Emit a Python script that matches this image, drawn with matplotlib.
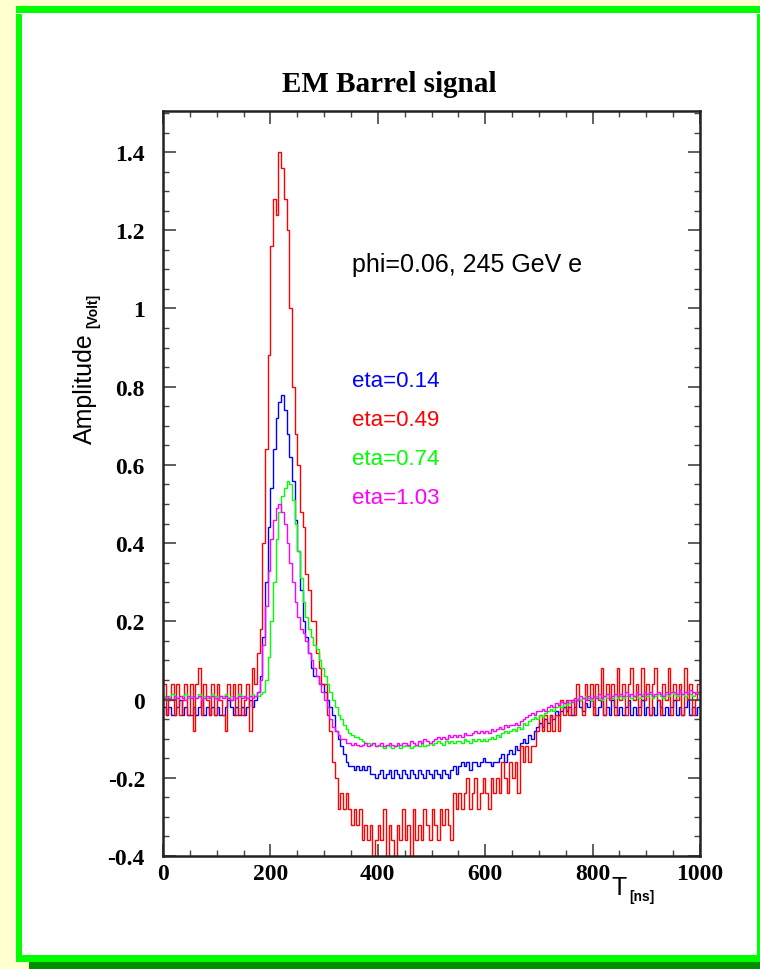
import numpy as np
import matplotlib
matplotlib.use('Agg')
import matplotlib.pyplot as plt
from matplotlib.patches import Rectangle
from matplotlib.ticker import MultipleLocator, FuncFormatter

plt.rcParams['axes.unicode_minus'] = False

# Signal amplitudes in units of 0.01 V, one value per 5 ns bin (0 .. 1000 ns)
bin_width = 5
eta_labels = ['eta=0.14', 'eta=0.49', 'eta=0.74', 'eta=1.03']

amp_eta014 = [
    -2, -4, -2, -4, -4, -2, 0, -4, -2, -4,
    -4, -2, -4, -2, 0, -4, -2, -4, -2, -4,
    -2, -4, -4, -2, 0, -2, -4, -2, -4, -2,
    -4, -2, 0, -2, 0, 2, 6, 16, 30, 44,
    54, 64, 72, 76, 78, 74, 68, 62, 56, 46,
    38, 28, 20, 16, 12, 8, 6, 6, 4, 4,
    2, 0, -2, -4, -8, -10, -12, -14, -16, -17,
    -17, -18, -17, -18, -17, -18, -17, -19, -19, -20,
    -19, -18, -20, -19, -18, -20, -18, -19, -20, -18,
    -19, -20, -18, -19, -20, -18, -19, -20, -18, -19,
    -20, -18, -19, -20, -18, -19, -20, -18, -17, -19,
    -17, -16, -17, -16, -18, -16, -16, -17, -16, -15,
    -16, -16, -17, -16, -16, -15, -14, -16, -14, -13,
    -14, -12, -13, -11, -10, -11, -9, -10, -8, -7,
    -6, -7, -5, -6, -4, -5, -3, -4, -3, -2,
    -3, -2, -4, -2, 0, -2, -3, -1, -2, 0,
    -2, -4, -2, 0, -4, -2, -4, 0, -2, -4,
    -2, -4, -2, 0, -4, -2, -4, -2, 0, -4,
    -2, -4, -2, -4, 0, -2, -4, -2, -4, -2,
    0, -4, -2, -4, -2, 0, -4, -2, -4, -2,
]

amp_eta049 = [
    4, -4, 0, 4, -4, 4, -4, 0, 4, -4,
    4, -8, 4, 8, -4, 4, 0, -4, 4, -4,
    4, 0, -4, -8, 4, 0, 4, -4, 4, -4,
    0, 4, -8, 8, 4, 12, 18, 40, 64, 88,
    116, 128, 124, 140, 136, 128, 120, 100, 80, 68,
    60, 48, 44, 32, 28, 20, 20, 12, 8, 4,
    4, -4, -8, -16, -20, -28, -24, -28, -24, -28,
    -32, -28, -32, -28, -36, -32, -36, -32, -40, -36,
    -32, -36, -28, -40, -32, -36, -40, -32, -36, -28,
    -36, -32, -40, -28, -36, -32, -36, -28, -32, -36,
    -28, -32, -36, -28, -32, -28, -32, -36, -24, -28,
    -24, -28, -24, -20, -28, -24, -20, -28, -24, -20,
    -24, -28, -20, -24, -20, -24, -16, -20, -24, -16,
    -20, -16, -24, -12, -16, -12, -16, -12, -12, -8,
    -4, -8, -4, -8, -4, -8, -4, -8, 0, -4,
    0, -4, 0, -4, 4, 0, -4, 4, 0, 4,
    -4, 4, 0, 8, -4, 4, 0, 4, -4, 8,
    0, 4, -4, 4, 8, 0, 4, -4, 8, 0,
    4, -4, 4, 8, 0, -4, 4, 0, 8, -4,
    4, 0, 4, -4, 8, 0, 4, -4, 0, 4,
]

amp_eta074 = [
    1, 0.5, 1, 1.5, 1, 0.5, 1, 1, 1.5, 0.5,
    1, 1, 0.5, 1.5, 1, 1, 0.5, 1, 1.5, 1,
    0.5, 1, 1, 1.5, 0.5, 1, 1, 0.5, 1.5, 1,
    1, 0.5, 1, 1.5, 1, 1, 1.5, 2, 5, 11,
    20, 30, 41, 48, 52, 54, 56, 55, 51, 45,
    38, 31, 25, 21, 18, 16, 14, 13, 10, 8,
    6, 4, 2, 0, -2, -4, -5, -6.5, -7.5, -8.5,
    -9, -9.5, -9.5, -10, -10.5, -11, -11, -11.5, -11, -12,
    -11.5, -12, -12.5, -11.5, -12, -12.5, -12, -11.5, -12.5, -12,
    -11.5, -12, -12.5, -12, -11.5, -12, -11, -12, -11.5, -11,
    -11.5, -11, -10.5, -11, -11.5, -10.5, -11, -10.5, -11, -10.5,
    -10.5, -11, -10, -10.5, -11, -10, -10.5, -10, -10.5, -10,
    -10.5, -10, -9.5, -10, -9, -9.5, -8.5, -8, -8.5, -8,
    -7.5, -8, -7, -7.5, -6, -6.5, -5.5, -5, -4.5, -5,
    -4, -4.5, -3.5, -3, -2.5, -3, -2, -1.5, -2, -1,
    -1.5, -1, -0.5, 0, 0.5, 0, 0.5, 1, 0.5, 0,
    0.5, 1, 0.5, 0, 1, 0.5, 1, 0.5, 1.5, 0.5,
    1, 0.5, 1, 1.5, 0.5, 1, 1, 0.5, 1.5, 1,
    1, 1.5, 0.5, 1, 1.5, 1, 0.5, 1.5, 1, 2,
    1.5, 1, 2, 1.5, 1, 2, 1.5, 1, 2, 1.5,
]

amp_eta103 = [
    0.5, 1, 0.5, 0, 1, 0.5, 1, 0.5, 0, 1,
    0.5, 1, 0.5, 1, 0, 0.5, 1, 0.5, 1, 0.5,
    0, 1, 0.5, 1, 0.5, 0, 1, 0.5, 1, 0.5,
    1, 0.5, 1, 0.5, 1, 2, 5, 14, 24, 33,
    41, 46, 49, 50, 48, 45, 40, 35, 30, 25,
    21, 18, 17, 15, 12, 10, 8, 6, 4, 2,
    0, -2, -5, -7, -8, -9, -10, -10, -11, -11,
    -11.5, -11, -11.5, -12, -11.5, -11, -12, -11.5, -11, -12,
    -11.5, -11, -12, -11.5, -11, -11.5, -12, -11, -11.5, -11,
    -11, -11.5, -10.5, -11, -11.5, -10.5, -11, -10, -10.5, -11,
    -10.5, -10, -9.5, -10, -9.5, -10, -9, -9.5, -9, -9.5,
    -9, -9.5, -8.5, -9, -9, -8.5, -8, -8.5, -8, -8.5,
    -8, -8.5, -7.5, -8, -7.5, -7, -7.5, -6.5, -7, -6.5,
    -6.5, -6, -6.5, -5.5, -5, -4.5, -4, -3.5, -4, -3,
    -3, -2.5, -3, -2, -1.5, -2, -1, -1.5, -0.5, -1,
    -0.5, 0, -0.5, 0.5, 0, 1, 0.5, 0, 1, 0.5,
    1, 0.5, 1.5, 0.5, 1, 1.5, 0.5, 1, 1.5, 1,
    1.5, 1, 2, 1, 1.5, 1, 2, 1.5, 1, 2,
    1.5, 2, 1, 1.5, 2, 1.5, 1, 2, 1.5, 2,
    2, 1.5, 2.5, 1.5, 2, 1.5, 2.5, 2, 1.5, 2,
]

W, H = 760, 970
fig = plt.figure(figsize=(W / 100, H / 100), dpi=100, facecolor='#ffffd0')


def px_rect(x0, y0, x1, y1, color):
    # rectangle given in pixel coords measured from the top-left corner
    fig.patches.append(Rectangle((x0 / W, 1 - y1 / H), (x1 - x0) / W, (y1 - y0) / H,
                                 transform=fig.transFigure, facecolor=color,
                                 edgecolor='none', zorder=-5))


# panel with green frame and shadow
px_rect(29, 963, 760, 970, '#009000')
px_rect(16, 7, 760, 963, 'white')
px_rect(16, 7, 760, 14, '#00ff00')
px_rect(16, 15, 22, 963, '#00ff00')
px_rect(16, 956, 760, 963, '#00ff00')
px_rect(757, 15, 760, 963, '#00ff00')

ax = fig.add_axes([163 / W, 1 - 857 / H, 537 / W, 745 / H])
ax.set_facecolor('white')

edges = np.arange(0, 1000 + bin_width, bin_width)
series = [amp_eta014, amp_eta049, amp_eta074, amp_eta103]
colors = ['#0000ff', '#ff0000', '#00ff00', '#ff00ff']
for vals, c in zip(series, colors):
    ax.stairs(np.array(vals) / 100.0, edges, color=c, lw=1.0, baseline=None)

ax.set_xlim(0, 1000)
ax.set_ylim(-0.4, 1.505)
ax.xaxis.set_major_locator(MultipleLocator(200))
ax.xaxis.set_minor_locator(MultipleLocator(50))
ax.yaxis.set_major_locator(MultipleLocator(0.2))
ax.yaxis.set_minor_locator(MultipleLocator(0.05))
ax.yaxis.set_major_formatter(FuncFormatter(lambda v, p: '%g' % round(v, 2)))
ax.xaxis.set_major_formatter(FuncFormatter(lambda v, p: '%g' % v))

for sp in ax.spines.values():
    sp.set_linewidth(1.8)
    sp.set_color('#222222')
ax.tick_params(which='both', direction='in', top=True, right=True, color='#444444')
ax.tick_params(which='major', length=9, width=1.2)
ax.tick_params(which='minor', length=4.5, width=1.0)
ax.tick_params(axis='y', which='major', pad=13)
ax.tick_params(axis='x', which='major', pad=5)
for lab in ax.get_xticklabels() + ax.get_yticklabels():
    lab.set_fontfamily('Liberation Serif')
    lab.set_fontweight('bold')
    lab.set_fontsize(17)

# title and axis labels
fig.text(389.5 / W, 1 - 84 / H, 'EM Barrel signal', ha='center', va='center',
         family='Liberation Serif', weight='bold', fontsize=21)
fig.text(85 / W, 1 - 389 / H, 'Amplitude', rotation=90, ha='center', va='center',
         family='Liberation Sans', fontsize=18)
fig.text(93 / W, 1 - 311 / H, '[Volt]', rotation=90, ha='center', va='center',
         family='Liberation Sans', weight='bold', fontsize=10)
fig.text(619 / W, 1 - 888 / H, 'T', ha='center', va='center',
         family='Liberation Sans', fontsize=18)
fig.text(642 / W, 1 - 897 / H, '[ns]', ha='center', va='center',
         family='Liberation Sans', weight='bold', fontsize=10)

# annotations
ax.text(352, 1.113, 'phi=0.06, 245 GeV e', ha='left', va='center',
        family='Liberation Sans', fontsize=18, color='black')
label_y = [0.816, 0.717, 0.617, 0.517]
for lab, c, yy in zip(eta_labels, colors, label_y):
    ax.text(352, yy, lab, ha='left', va='center', family='Liberation Sans',
            fontsize=16, color=c)

fig.savefig('out.png', dpi=100, facecolor=fig.get_facecolor())
